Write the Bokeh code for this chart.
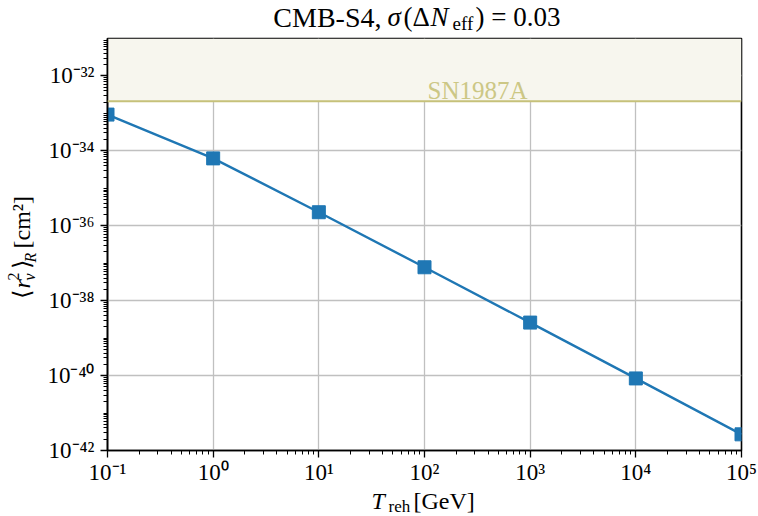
import numpy as np
from bokeh.plotting import figure
from bokeh.layouts import row, column
from bokeh.models import (FixedTicker, CustomJSTickFormatter, Span, BoxAnnotation,
                          Label, Range1d)
from bokeh.core.properties import value
from bokeh.embed import file_html
from bokeh.resources import INLINE

# ---- data -------------------------------------------------------------
T_reh = [1e-1, 1e0, 1e1, 1e2, 1e3, 1e4, 1e5]
r2_nu = [9.3e-34, 6.3e-35, 2.3e-36, 7.8e-38, 2.6e-39, 8.4e-41, 2.7e-42]
sn1987a_bound = 2.1e-33
sn1987a_label = "SN1987A"
x_major_ticks = [1e-1, 1e0, 1e1, 1e2, 1e3, 1e4, 1e5]
y_major_ticks = [1e-42, 1e-40, 1e-38, 1e-36, 1e-34, 1e-32]
x_limits = (1e-1, 1e5)
y_limits = (1e-42, 1e-31)

BLUE = "#1f77b4"
OLIVE_LINE = "#c6c17a"
OLIVE_TEXT = "#ccc785"
OLIVE_FILL = "#f7f6ee"
FONT = "Liberation Serif"
TOTAL_H = 516
BL = 0.3  # baseline correction (em)

x_minor = [m * 10.0 ** k for k in range(-1, 5) for m in range(2, 10)]
y_minor = [m * 10.0 ** k for k in range(-42, -31) for m in range(1, 10)
           if not (m == 1 and k % 2 == 0)]

# ---- main plot ---------------------------------------------------------
p = figure(width=718, height=450, x_axis_type="log", y_axis_type="log",
           x_range=Range1d(*x_limits), y_range=Range1d(*y_limits),
           output_backend="svg", toolbar_location=None,
           min_border_left=67, min_border_right=17,
           min_border_top=1, min_border_bottom=36)
p.title.text = ""
p.background_fill_color = "white"
p.border_fill_color = "white"
p.outline_line_color = "black"
p.outline_line_width = 1.6

fmt = CustomJSTickFormatter(code="""
const e = Math.round(Math.log10(tick));
const sup = {'-':'\u207b','0':'\u2070','1':'\u00b9','2':'\u00b2','3':'\u00b3',
             '4':'\u2074','5':'\u2075','6':'\u2076','7':'\u2077','8':'\u2078','9':'\u2079'};
return '10' + String(e).split('').map(c => sup[c]).join('');
""")

p.xaxis.ticker = FixedTicker(ticks=x_major_ticks, minor_ticks=x_minor)
p.yaxis.ticker = FixedTicker(ticks=y_major_ticks, minor_ticks=y_minor)
for ax in (p.xaxis[0], p.yaxis[0]):
    ax.formatter = fmt
    ax.major_label_text_font = FONT
    ax.major_label_text_font_size = "23px"
    ax.major_label_text_color = "black"
    ax.axis_line_color = "black"
    ax.axis_line_width = 1.6
    ax.major_tick_line_color = "black"
    ax.minor_tick_line_color = "black"
    ax.major_tick_line_width = 1.3
    ax.minor_tick_line_width = 1.0
    ax.major_tick_out = 7
    ax.major_tick_in = 0
    ax.minor_tick_out = 4
    ax.minor_tick_in = 0
p.xaxis.major_label_standoff = 2
p.yaxis.major_label_standoff = 6

p.xgrid.grid_line_color = "#c0c0c0"
p.ygrid.grid_line_color = "#c0c0c0"
p.xgrid.grid_line_width = 1.3
p.ygrid.grid_line_width = 1.3

# SN1987A excluded region
p.add_layout(BoxAnnotation(bottom=sn1987a_bound, fill_color=OLIVE_FILL, fill_alpha=1.0,
                           line_color=None, level="underlay"))
p.add_layout(Span(location=sn1987a_bound, dimension="width", line_color=OLIVE_LINE,
                  line_width=2.0))
p.add_layout(Label(x=x_major_ticks[3], y=sn1987a_bound, x_offset=3, y_offset=4 + 7,
                   text=sn1987a_label, text_font=FONT, text_font_size="25px",
                   text_color=OLIVE_TEXT, text_align="left",
                   text_baseline="alphabetic"))

# data
p.line(T_reh, r2_nu, line_width=2.4, color=BLUE)
p.scatter(T_reh, r2_nu, marker="square", size=13, color=BLUE)


# ---- text strips (page-pixel coordinates, y downward from top) ---------
def strip(x0, y0, w, h, left=0, right=0):
    f = figure(width=w, height=h, x_range=Range1d(x0 + left, x0 + w - right),
               y_range=Range1d(TOTAL_H - (y0 + h), TOTAL_H - y0),
               output_backend="svg", toolbar_location=None, min_border=0,
               min_border_left=left, min_border_right=right,
               x_axis_location=None, y_axis_location=None)
    f.title.text = ""
    f.outline_line_color = None
    f.background_fill_color = "white"
    f.border_fill_color = "white"
    for g in f.grid:
        g.visible = False
    return f


def txt(f, x, y, s, size, style="normal", angle=0.0, align="left"):
    if angle == 0.0:
        y = y - BL * size
    else:
        x = x - BL * size
    f.text(x=[x], y=[TOTAL_H - y], text=[s], text_font=value(FONT),
           text_font_size=f"{size}px", text_font_style=style, angle=angle,
           text_align=align, text_baseline="alphabetic", text_color="black")


# title: CMB-S4, σ(ΔN_eff) = 0.03
t = strip(40, 0, 718, 37, left=67, right=17)
txt(t, 381, 25, "CMB-S4,", 28, align="right")
txt(t, 387, 25, "σ", 27, "italic")
txt(t, 403, 25, "(Δ", 27)
txt(t, 430, 25, "N", 27, "italic")
txt(t, 452, 29, "eff", 19)
txt(t, 475, 25, ") = 0.03", 27)

# x label: T_reh [GeV]
xl = strip(40, 487, 718, 29, left=67, right=17)
txt(xl, 371, 508, "T", 24, "italic")
txt(xl, 388, 511, "reh", 17)
txt(xl, 413, 508, "[GeV]", 24)

# y label: <r_nu^2>_R [cm^2]
A = np.pi / 2
yl = strip(0, 0, 40, 516)
txt(yl, 29, 298, "⟨", 24, "normal", A)
txt(yl, 29, 288, "r", 24, "italic", A)
txt(yl, 18, 280, "2", 16, "normal", A)
txt(yl, 34, 280, "ν", 16, "italic", A)
txt(yl, 29, 268, "⟩", 24, "normal", A)
txt(yl, 35, 262, "R", 16, "italic", A)
txt(yl, 29, 248, "[cm²]", 24, "normal", A)

layout = row(yl, column(t, p, xl, spacing=0), spacing=0)

with open("out.html", "w", encoding="utf-8") as f:
    f.write(file_html(layout, INLINE))
